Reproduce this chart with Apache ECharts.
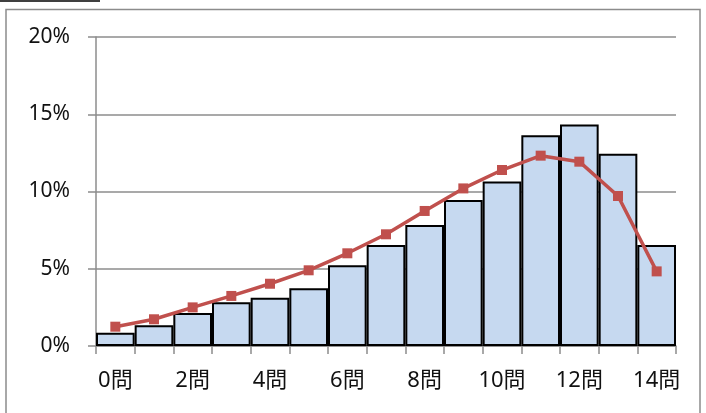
<!DOCTYPE html>
<html>
<head>
<meta charset="utf-8">
<script src="https://cdn.jsdelivr.net/npm/echarts@6/dist/echarts.min.js"></script>
<style>
html, body { margin: 0; padding: 0; background: #fff; }
#chart { width: 706px; height: 413px; }
</style>
</head>
<body>
<div id="chart"></div>
<script>
// Number of correct answers (0–14) and share of respondents
const categories = ['0問','1問','2問','3問','4問','5問','6問','7問','8問','9問','10問','11問','12問','13問','14問'];
const actualShare = [0.86, 1.34, 2.14, 2.83, 3.13, 3.73, 5.22, 6.54, 7.83, 9.45, 10.64, 13.64, 14.33, 12.45, 6.54];
const expectedShare = [1.25, 1.73, 2.5, 3.24, 4.03, 4.9, 6.0, 7.23, 8.74, 10.2, 11.39, 12.32, 11.93, 9.71, 4.83];
const yTicks = [0, 5, 10, 15, 20];

const font = '"Noto Sans", "Noto Sans CJK JP", sans-serif';
const chart = echarts.init(document.getElementById('chart'), null, { renderer: 'canvas' });

chart.setOption({
  animation: false,
  backgroundColor: '#ffffff',
  grid: { left: 96, right: 30, top: 37, bottom: 67, containLabel: false },
  xAxis: {
    type: 'category',
    data: categories,
    boundaryGap: true,
    axisLine: { lineStyle: { color: '#8c8c8c', width: 1.5 } },
    axisTick: { show: true, interval: 0, length: 8, lineStyle: { color: '#8c8c8c', width: 1.5 } },
    axisLabel: { interval: 1, margin: 24, fontSize: 22, color: '#111', fontFamily: font }
  },
  yAxis: {
    type: 'value',
    min: yTicks[0],
    max: yTicks[yTicks.length - 1],
    interval: 5,
    axisLine: { show: true, lineStyle: { color: '#8c8c8c', width: 1.5 } },
    axisTick: { show: true, inside: false, length: 8, lineStyle: { color: '#8c8c8c', width: 1.5 } },
    axisLabel: { margin: 26, fontSize: 21, color: '#111', fontFamily: font, formatter: v => v + '%' },
    splitLine: { lineStyle: { color: '#8c8c8c', width: 1.5 } }
  },
  series: [
    {
      type: 'bar',
      data: actualShare,
      barCategoryGap: '0%',
      itemStyle: { color: '#c6d9f0', borderColor: '#000000', borderWidth: 2 },
      z: 2
    },
    {
      type: 'line',
      data: expectedShare,
      symbol: 'rect',
      symbolSize: 10,
      lineStyle: { color: '#c0504d', width: 3.5 },
      itemStyle: { color: '#c0504d' },
      z: 3
    }
  ],
  graphic: [
    { type: 'line', shape: { x1: 0, y1: 1, x2: 100, y2: 1 }, style: { stroke: '#000', lineWidth: 1.5 } },
    { type: 'polyline', shape: { points: [[6, 413], [6, 9.5], [700, 9.5], [700, 413]] }, style: { stroke: '#8c8c8c', lineWidth: 1.5, fill: null } }
  ]
});
</script>
</body>
</html>
